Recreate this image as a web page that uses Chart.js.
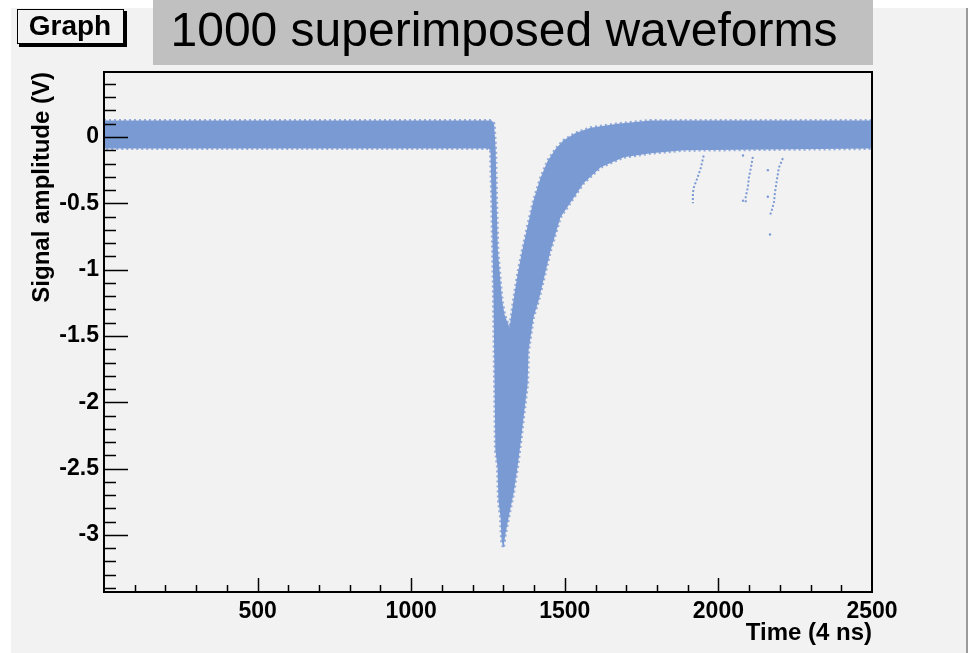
<!DOCTYPE html>
<html>
<head>
<meta charset="utf-8">
<title>1000 superimposed waveforms</title>
<script src="https://cdn.jsdelivr.net/npm/chart.js@4/dist/chart.umd.min.js"></script>
<style>
  html, body { margin: 0; padding: 0; background: #fff; }
  canvas { display: block; }
</style>
</head>
<body>
<canvas id="waveChart" width="968" height="653"></canvas>
<script>
// Axis tick labels
const xTicks = [500, 1000, 1500, 2000, 2500];
const yTicks = [-3, -2.5, -2, -1.5, -1, -0.5, 0];

// Outline of the 1000 overlaid traces (time, volts), clockwise
const bandT = [0, 1262, 1270, 1275, 1278, 1282, 1290, 1296, 1304, 1320,
               1333, 1346, 1362, 1379, 1398, 1421, 1444, 1470, 1496, 1535,
               1584, 1672, 1780, 2497, 2497, 1887, 1780, 1692, 1617, 1561,
               1486, 1454, 1415, 1398, 1382, 1379, 1366, 1356, 1346, 1333,
               1317, 1307, 1300, 1294, 1291, 1284, 1281, 1274, 1268, 1262,
               1258, 1250, 0];
const bandV = [0.125, 0.125, 0.10, -0.10, -0.48, -0.85, -1.08, -1.23, -1.34, -1.44,
               -1.23, -1.04, -0.85, -0.67, -0.48, -0.31, -0.18, -0.09, -0.025, 0.03,
               0.07, 0.10, 0.125, 0.125, -0.087, -0.10, -0.123, -0.153, -0.228, -0.349,
               -0.605, -0.854, -1.231, -1.36, -1.61, -1.86, -2.11, -2.31, -2.49, -2.69,
               -2.87, -2.99, -3.10, -3.04, -2.87, -2.74, -2.49, -2.36, -1.23, -0.48,
               -0.10, -0.087, -0.087];

// Small afterpulses on the tail
const pulseAT = [1952, 1943, 1933, 1920, 1917, 1917];
const pulseAV = [-0.14, -0.23, -0.30, -0.38, -0.42, -0.50];
const pulseBT = [2112, 2106, 2099, 2096, 2089, 2089];
const pulseBV = [-0.15, -0.23, -0.31, -0.38, -0.45, -0.50];
const pulseCT = [2210, 2197, 2190, 2184, 2181, 2174, 2168];
const pulseCV = [-0.16, -0.23, -0.33, -0.42, -0.49, -0.55, -0.59];
const strayT = [2080, 2080, 2161, 2161, 2168];
const strayV = [-0.14, -0.48, -0.25, -0.45, -0.735];

const dotColor = 'rgb(122,154,212)';
const fontFamily = '"Liberation Sans", Arial, Helvetica, sans-serif';

function pts(ts, vs) {
    return ts.map((t, i) => ({ x: t, y: vs[i] }));
}

function pulse(ts, vs) {
    return {
        data: pts(ts, vs),
        borderColor: dotColor,
        borderWidth: 2,
        borderDash: [2, 2],
        pointRadius: 0,
        fill: false,
        tension: 0
    };
}

// ROOT style pad: grey canvas, frame, inward ticks, title and "Graph" boxes
const rootPad = {
    id: 'rootPad',
    beforeDraw(chart) {
        const ctx = chart.ctx;
        ctx.save();
        ctx.fillStyle = '#fff';
        ctx.fillRect(0, 0, chart.width, chart.height);
        ctx.fillStyle = '#f2f2f2';
        ctx.fillRect(11, 8, 955, chart.height - 8);
        ctx.fillStyle = '#9a9a9a';
        ctx.fillRect(966, 8, 2, chart.height - 8);
        ctx.restore();
    },
    afterDraw(chart) {
        const ctx = chart.ctx;
        const a = chart.chartArea;
        const xs = chart.scales.x, ys = chart.scales.y;
        ctx.save();

        // frame
        ctx.strokeStyle = '#000';
        ctx.lineWidth = 2;
        ctx.strokeRect(a.left, a.top, a.right - a.left, a.bottom - a.top);

        // x ticks pointing up into the frame
        ctx.lineWidth = 1.5;
        ctx.beginPath();
        for (let t = 100; t < 2500; t += 100) {
            const px = Math.round(xs.getPixelForValue(t)) + 0.5;
            const len = t % 500 === 0 ? 14 : 7;
            ctx.moveTo(px, a.bottom);
            ctx.lineTo(px, a.bottom - len);
        }
        // y ticks pointing right into the frame
        for (let k = -34; k <= 4; k++) {
            const py = Math.round(ys.getPixelForValue(k / 10)) + 0.5;
            const len = k % 5 === 0 ? 24 : 12;
            ctx.moveTo(a.left, py);
            ctx.lineTo(a.left + len, py);
        }
        ctx.stroke();

        // title box
        ctx.fillStyle = '#c0c0c0';
        ctx.fillRect(153, 0, 720, 65);
        ctx.fillStyle = '#000';
        ctx.font = '48px ' + fontFamily;
        ctx.textAlign = 'center';
        ctx.textBaseline = 'middle';
        ctx.fillText('1000 superimposed waveforms', 504, 33);

        // "Graph" label box with shadow
        ctx.fillStyle = '#000';
        ctx.fillRect(19, 11, 108, 36);
        ctx.fillStyle = '#f2f2f2';
        ctx.fillRect(17, 9, 107, 35);
        ctx.strokeStyle = '#000';
        ctx.lineWidth = 1;
        ctx.strokeRect(17.5, 9.5, 106, 34);
        ctx.fillStyle = '#000';
        ctx.font = 'bold 28px ' + fontFamily;
        ctx.fillText('Graph', 70, 27);

        ctx.restore();
    }
};

const ctx = document.getElementById('waveChart').getContext('2d');
const waveChart = new Chart(ctx, {
    type: 'line',
    data: {
        datasets: [
            {
                data: pts(bandT, bandV),
                backgroundColor: dotColor,
                borderColor: 'rgba(122,154,212,0.8)',
                borderWidth: 3,
                borderDash: [2, 3],
                pointRadius: 0,
                fill: 'shape',
                tension: 0
            },
            pulse(pulseAT, pulseAV),
            pulse(pulseBT, pulseBV),
            pulse(pulseCT, pulseCV),
            {
                data: pts(strayT, strayV),
                showLine: false,
                pointRadius: 1.2,
                pointBackgroundColor: dotColor,
                pointBorderWidth: 0
            }
        ]
    },
    options: {
        responsive: false,
        animation: false,
        layout: { padding: { left: 0, top: 72, right: 96, bottom: 0 } },
        plugins: {
            legend: { display: false },
            tooltip: { enabled: false }
        },
        scales: {
            x: {
                type: 'linear',
                min: 0,
                max: 2500,
                afterBuildTicks: s => { s.ticks = xTicks.map(v => ({ value: v })); },
                afterFit: s => { s.height = 61; },
                grid: { display: false, drawTicks: false },
                border: { display: false },
                ticks: {
                    color: '#000',
                    padding: 6,
                    maxRotation: 0,
                    autoSkip: false,
                    callback: v => String(v),
                    font: { family: fontFamily, size: 23, weight: 'bold' }
                },
                title: {
                    display: true,
                    text: 'Time (4 ns)',
                    align: 'end',
                    color: '#000',
                    padding: { top: 0, bottom: 5 },
                    font: { family: fontFamily, size: 24, weight: 'bold' }
                }
            },
            y: {
                type: 'linear',
                min: -3.43,
                max: 0.49,
                afterBuildTicks: s => { s.ticks = yTicks.map(v => ({ value: v })); },
                afterFit: s => { s.width = 104; },
                grid: { display: false, drawTicks: false },
                border: { display: false },
                ticks: {
                    color: '#000',
                    padding: 5,
                    autoSkip: false,
                    callback: v => String(v),
                    font: { family: fontFamily, size: 23, weight: 'bold' }
                },
                title: {
                    display: true,
                    text: 'Signal amplitude (V)',
                    align: 'end',
                    color: '#000',
                    padding: { top: 28, bottom: 0 },
                    font: { family: fontFamily, size: 24, weight: 'bold' }
                }
            }
        }
    },
    plugins: [rootPad]
});
</script>
</body>
</html>
